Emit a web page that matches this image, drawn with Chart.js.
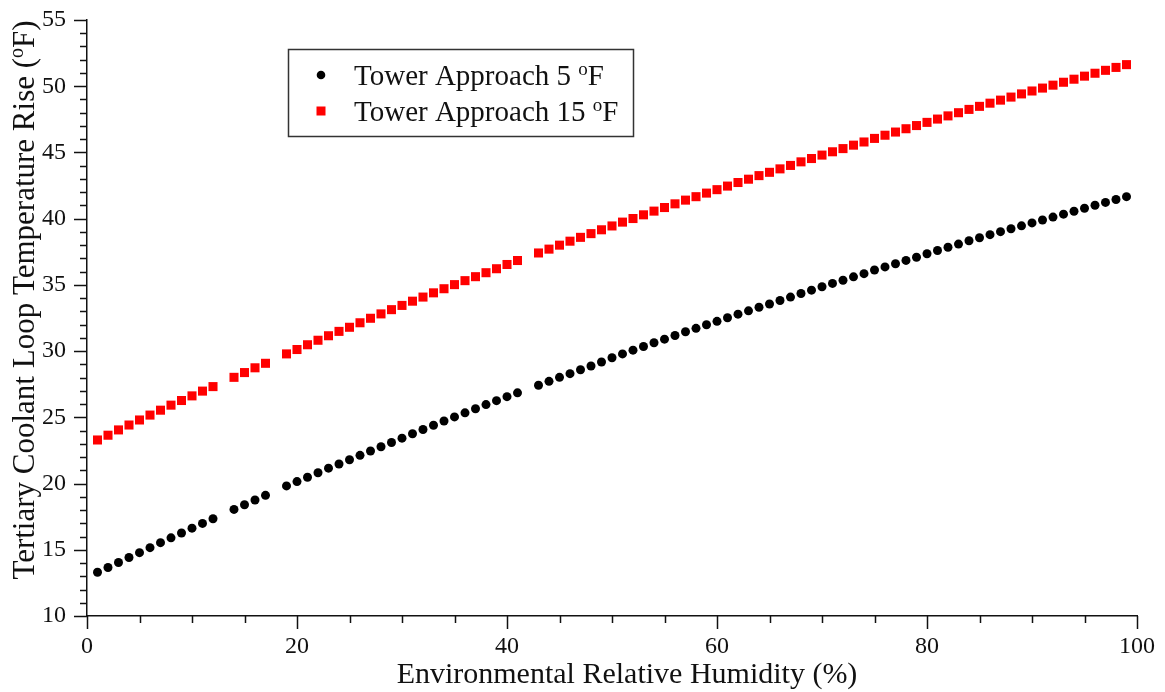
<!DOCTYPE html>
<html>
<head>
<meta charset="utf-8">
<title>Tertiary Coolant Loop Temperature Rise</title>
<script src="https://cdn.jsdelivr.net/npm/chart.js@4"></script>
<style>
  html, body { margin: 0; padding: 0; background: #fff; }
  #wrap { width: 1165px; height: 692px; position: relative; }
</style>
</head>
<body>
<div id="wrap"><canvas id="myChart"></canvas></div>
<script>
// relative humidity (%) of each computed case
var humidity = [1, 2, 3, 4, 5, 6, 7, 8, 9, 10, 11, 12, 14, 15, 16, 17,
  19, 20, 21, 22, 23, 24, 25, 26, 27, 28, 29, 30, 31, 32, 33, 34, 35, 36, 37, 38, 39, 40, 41,
  43, 44, 45, 46, 47, 48, 49,
  50, 51, 52, 53, 54, 55, 56, 57, 58, 59, 60, 61, 62, 63, 64, 65, 66, 67, 68, 69,
  70, 71, 72, 73, 74, 75, 76, 77, 78, 79,
  80, 81, 82, 83, 84, 85, 86, 87, 88, 89, 90, 91, 92, 93, 94, 95, 96, 97, 98, 99];

// temperature rise (F), tower approach 5 F
var approach5 = [13.30, 13.66, 14.04, 14.42, 14.78, 15.16, 15.54, 15.90, 16.27, 16.63, 16.99, 17.34,
  18.05, 18.40, 18.76, 19.11,
  19.82, 20.15, 20.48, 20.82, 21.16, 21.48, 21.80, 22.13, 22.46, 22.78, 23.10, 23.43, 23.76, 24.08,
  24.40, 24.72, 25.03, 25.34, 25.65, 25.96, 26.26, 26.56, 26.85,
  27.42, 27.72, 28.02, 28.30, 28.59, 28.88, 29.18,
  29.50, 29.79, 30.07, 30.35, 30.63, 30.90, 31.18, 31.46, 31.72, 31.99, 32.25, 32.52, 32.79, 33.04,
  33.31, 33.56, 33.82, 34.08, 34.35, 34.60,
  34.86, 35.11, 35.35, 35.61, 35.85, 36.12, 36.36, 36.60, 36.85, 37.09,
  37.35, 37.60, 37.84, 38.08, 38.33, 38.56, 38.79, 39.02, 39.24, 39.46,
  39.68, 39.90, 40.12, 40.34, 40.56, 40.79, 41.01, 41.23, 41.45, 41.66];

// temperature rise (F), tower approach 15 F
var approach15 = [23.29, 23.65, 24.05, 24.42, 24.80, 25.17, 25.54, 25.92, 26.27, 26.62, 26.98, 27.32,
  28.02, 28.38, 28.74, 29.08,
  29.79, 30.12, 30.48, 30.82, 31.16, 31.49, 31.80, 32.14, 32.48, 32.81, 33.13, 33.45, 33.77, 34.08,
  34.40, 34.71, 35.02, 35.32, 35.62, 35.92, 36.22, 36.54, 36.84,
  37.41, 37.70, 38.00, 38.30, 38.59, 38.87, 39.16,
  39.45, 39.74, 40.01, 40.29, 40.57, 40.84, 41.12, 41.40, 41.66, 41.93, 42.19, 42.46, 42.73, 42.98,
  43.25, 43.50, 43.76, 44.02, 44.29, 44.54,
  44.80, 45.05, 45.29, 45.55, 45.79, 46.06, 46.30, 46.54, 46.79, 47.03,
  47.27, 47.52, 47.76, 48.00, 48.25, 48.48, 48.72, 48.95, 49.18, 49.42,
  49.64, 49.86, 50.08, 50.30, 50.53, 50.76, 50.98, 51.20, 51.42, 51.63];

var seriesNames = ['Tower Approach 5 ', 'Tower Approach 15 '];
var xTitle = 'Environmental Relative Humidity (%)';
var yTitle = 'Tertiary Coolant Loop Temperature Rise (';

var SERIF = '"Liberation Serif", "Times New Roman", serif';
var INK = '#111111';

function points(ys) {
  return humidity.map(function (h, i) { return { x: h, y: ys[i] }; });
}

// writes "text" + superscript o + "F" (+ tail), returns end x
function degText(ctx, text, x, y, size, tail) {
  ctx.font = size + 'px ' + SERIF;
  ctx.fillText(text, x, y);
  x += ctx.measureText(text).width;
  ctx.font = Math.round(size * 0.65) + 'px ' + SERIF;
  ctx.fillText('o', x, y - size * 0.36);
  x += ctx.measureText('o').width;
  ctx.font = size + 'px ' + SERIF;
  ctx.fillText('F' + (tail || ''), x, y);
  return x + ctx.measureText('F' + (tail || '')).width;
}

function degWidth(ctx, text, size, tail) {
  ctx.font = size + 'px ' + SERIF;
  var w = ctx.measureText(text + 'F' + (tail || '')).width;
  ctx.font = Math.round(size * 0.65) + 'px ' + SERIF;
  return w + ctx.measureText('o').width;
}

var decorations = {
  id: 'decorations',
  afterDraw: function (chart) {
    var ctx = chart.ctx;
    var xs = chart.scales.x, ys = chart.scales.y;
    var area = chart.chartArea;
    ctx.save();
    ctx.strokeStyle = INK;
    ctx.lineWidth = 1.5;

    // x ticks: long every 20, short every 5
    ctx.beginPath();
    for (var v = 0; v <= 100; v += 5) {
      var px = Math.round(xs.getPixelForValue(v)) + 0.5;
      var len = v % 20 === 0 ? 13 : 7;
      ctx.moveTo(px, area.bottom);
      ctx.lineTo(px, area.bottom + len);
    }
    // y ticks: long every 5, short every 1
    for (var t = 10; t <= 55; t += 1) {
      var py = Math.round(ys.getPixelForValue(t)) + 0.5;
      var l2 = t % 5 === 0 ? 13 : 7;
      ctx.moveTo(area.left, py);
      ctx.lineTo(area.left - l2, py);
    }
    ctx.stroke();

    ctx.fillStyle = INK;
    ctx.textBaseline = 'alphabetic';

    // x axis title
    ctx.font = '30px ' + SERIF;
    ctx.textAlign = 'center';
    ctx.fillText(xTitle, 627, 683);

    // y axis title, rotated
    ctx.textAlign = 'left';
    var size = 31;
    var w = degWidth(ctx, yTitle, size, ')');
    ctx.save();
    ctx.translate(34, 300);
    ctx.rotate(-Math.PI / 2);
    degText(ctx, yTitle, -w / 2, 0, size, ')');
    ctx.restore();

    // legend box
    ctx.lineWidth = 1.5;
    ctx.strokeStyle = '#333';
    ctx.strokeRect(288.5, 49.5, 345, 87);
    var rowY = [75, 111];
    for (var i = 0; i < 2; i++) {
      var ds = chart.data.datasets[i];
      ctx.fillStyle = ds.backgroundColor;
      if (ds.pointStyle === 'rect') {
        ctx.fillRect(321 - 4.5, rowY[i] - 4.5, 9, 9);
      } else {
        ctx.beginPath();
        ctx.arc(321, rowY[i], 4.3, 0, Math.PI * 2);
        ctx.fill();
      }
      ctx.fillStyle = INK;
      degText(ctx, seriesNames[i], 354, rowY[i] + 10, 29);
    }
    ctx.restore();
  }
};

var ctx = document.getElementById('myChart').getContext('2d');
new Chart(ctx, {
  type: 'scatter',
  data: {
    datasets: [
      {
        label: seriesNames[0] + 'oF',
        data: points(approach5),
        backgroundColor: '#000000',
        borderColor: '#000000',
        pointStyle: 'circle',
        pointRadius: 4.5,
        pointBorderWidth: 0,
        pointHoverRadius: 4.5
      },
      {
        label: seriesNames[1] + 'oF',
        data: points(approach15),
        backgroundColor: '#ff0000',
        borderColor: '#ff0000',
        pointStyle: 'rect',
        pointRadius: 6.4,
        pointBorderWidth: 0,
        pointHoverRadius: 6.4
      }
    ]
  },
  options: {
    responsive: true,
    maintainAspectRatio: false,
    animation: false,
    layout: { padding: { left: 0, top: 20, right: 28, bottom: 0 } },
    plugins: {
      legend: { display: false },
      tooltip: { enabled: false }
    },
    scales: {
      x: {
        type: 'linear',
        min: 0,
        max: 100,
        grid: { display: false, drawTicks: false },
        border: { display: true, color: INK, width: 1.5 },
        ticks: {
          stepSize: 20,
          padding: 16,
          color: INK,
          maxRotation: 0,
          font: { family: SERIF, size: 24 }
        },
        afterFit: function (scale) {
          scale.height = 76;
          scale.paddingLeft = 0;
          scale.paddingRight = 0;
        }
      },
      y: {
        type: 'linear',
        min: 10,
        max: 55,
        grid: { display: false, drawTicks: false },
        border: { display: true, color: INK, width: 1.5 },
        ticks: {
          stepSize: 5,
          padding: 21,
          color: INK,
          font: { family: SERIF, size: 24 }
        },
        afterFit: function (scale) {
          scale.width = 87;
          scale.paddingTop = 0;
          scale.paddingBottom = 0;
        }
      }
    }
  },
  plugins: [decorations]
});
</script>
</body>
</html>
